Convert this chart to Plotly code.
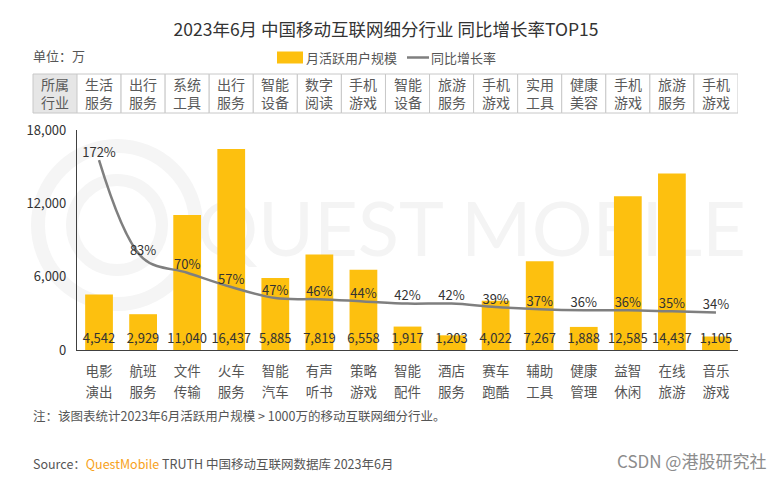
import plotly.graph_objects as go

# ---- data ----
cat_top = ["电影", "航班", "文件", "火车", "智能", "有声", "策略", "智能", "酒店", "赛车", "辅助", "健康", "益智", "在线", "音乐"]
cat_bottom = ["演出", "服务", "传输", "服务", "汽车", "听书", "游戏", "配件", "服务", "跑酷", "工具", "管理", "休闲", "旅游", "游戏"]
industries = ["生活<br>服务", "出行<br>服务", "系统<br>工具", "出行<br>服务", "智能<br>设备", "数字<br>阅读",
              "手机<br>游戏", "智能<br>设备", "旅游<br>服务", "手机<br>游戏", "实用<br>工具", "健康<br>美容",
              "手机<br>游戏", "旅游<br>服务", "手机<br>游戏"]
mau = [4542, 2929, 11040, 16437, 5885, 7819, 6558, 1917, 1203, 4022, 7267, 1888, 12585, 14437, 1105]
growth = [172, 83, 70, 57, 47, 46, 44, 42, 42, 39, 37, 36, 36, 35, 34]
y_ticks = [0, 6000, 12000, 18000]

W, H = 772, 478
L, R, T, B = 77, 738, 130, 350
FONT = "Noto Sans CJK SC, Microsoft YaHei, sans-serif"

categories = [f"{a}<br>{b}" for a, b in zip(cat_top, cat_bottom)]
ticktext = [f"<span style='font-size:13.5px'>{a}</span><br><span style='font-size:13.5px'>{b}</span>"
            for a, b in zip(cat_top, cat_bottom)]

def px(x):
    return (x - L) / (R - L)

def py(y):
    return (B - y) / (B - T)

fig = go.Figure()

fig.add_trace(go.Bar(
    x=categories, y=mau, name="月活跃用户规模",
    marker=dict(color="#FDC00F", line=dict(width=0)),
    width=0.63, showlegend=False, hoverinfo="x+y",
))
# value labels near the base of the bars
fig.add_trace(go.Scatter(
    x=categories, y=[820] * len(mau), mode="text",
    text=[f"{v:,}" for v in mau], textposition="middle center",
    textfont=dict(size=13, color="#333333", family=FONT),
    showlegend=False, hoverinfo="skip",
))
fig.add_trace(go.Scatter(
    x=categories, y=growth, name="同比增长率", yaxis="y2",
    mode="lines+text", line=dict(color="#7F7F7F", width=2.5, shape="spline", smoothing=1),
    text=[f"{g}%" for g in growth], textposition="top center",
    textfont=dict(size=13, color="#333333", family=FONT),
    showlegend=False,
))

shapes = []
annotations = []

def note(x, y, text, size=13, color="#555555", xanchor="left", xref="paper"):
    annotations.append(dict(xref=xref, yref="paper", x=x, y=y, xanchor=xanchor, yanchor="middle",
                            text=text, showarrow=False, font=dict(size=size, color=color, family=FONT)))

# watermark (behind)
shapes.append(dict(type="circle", xref="paper", yref="paper", layer="below",
                   x0=px(38), x1=px(196), y0=py(304), y1=py(146),
                   line=dict(color="#F5F5F5", width=14)))
shapes.append(dict(type="circle", xref="paper", yref="paper", layer="below",
                   x0=px(72), x1=px(162), y0=py(270), y1=py(180),
                   line=dict(color="#F5F5F5", width=12)))
shapes.append(dict(type="rect", xref="paper", yref="paper", layer="below",
                   x0=px(205), x1=px(738), y0=py(262), y1=py(188),
                   line=dict(width=0), fillcolor="rgba(0,0,0,0)",
                   label=dict(text="QUEST MOBILE", font=dict(size=76, color="#F4F4F4", family="Lato, sans-serif"),
                              textposition="middle center")))

# table
ty0, ty1 = py(113), py(74)
tmid = (ty0 + ty1) / 2
shapes.append(dict(type="rect", xref="paper", yref="paper", x0=px(33), x1=px(77), y0=ty0, y1=ty1,
                   fillcolor="#E6E6E6", line=dict(color="#C8C8C8", width=1)))
note(px(55), tmid, "所属<br>行业", size=14, xanchor="center", color="#5A5A5A")
for i, ind in enumerate(industries):
    shapes.append(dict(type="rect", xref="x", yref="paper", x0=i - 0.5, x1=i + 0.5, y0=ty0, y1=ty1,
                       fillcolor="white", line=dict(color="#C8C8C8", width=1)))
    note(i, tmid, ind, size=14, xanchor="center", xref="x", color="#5A5A5A")

# legend (manual)
shapes.append(dict(type="rect", xref="paper", yref="paper", x0=px(277), x1=px(303), y0=py(63.5), y1=py(51.5),
                   fillcolor="#FDC00F", line=dict(width=0)))
note(px(304), py(57.5), "月活跃用户规模")
shapes.append(dict(type="line", xref="paper", yref="paper", x0=px(407), x1=px(429), y0=py(57.5), y1=py(57.5),
                   line=dict(color="#7F7F7F", width=2.5)))
note(px(429), py(57.5), "同比增长率")

# texts
note(px(31), py(56), "单位：万")
note(px(31), py(415), "注：该图表统计2023年6月活跃用户规模 > 1000万的移动互联网细分行业。", size=12.5)
note(px(31), py(463), "Source：<span style='color:#F7A21B'>QuestMobile</span> TRUTH 中国移动互联网数据库 2023年6月",
     size=12.5)
note(px(768), py(461), "CSDN @港股研究社", size=17, color="#8C8C8C", xanchor="right")

fig.update_layout(
    width=W, height=H,
    margin=dict(l=L, r=W - R, t=T, b=H - B, pad=0, autoexpand=False),
    paper_bgcolor="white", plot_bgcolor="rgba(0,0,0,0)",
    title=dict(text="2023年6月 中国移动互联网细分行业 同比增长率TOP15", x=0.5, xanchor="center",
               xref="container", y=1 - 30 / H, yanchor="middle",
               font=dict(size=17.5, color="#333333", family=FONT)),
    xaxis=dict(showline=True, linecolor="#404040", linewidth=1.2, showgrid=False, ticks="",
               tickmode="array", tickvals=categories, ticktext=ticktext,
               tickfont=dict(size=16, color="#555555", family=FONT), ticklabelstandoff=6,
               range=[-0.5, len(categories) - 0.5], fixedrange=True, automargin=False),
    yaxis=dict(range=[0, 18000], tickvals=y_ticks, tickformat=",", showgrid=False, zeroline=False,
               showline=True, linecolor="#404040", linewidth=1.2, ticks="", automargin=False,
               tickfont=dict(size=13, color="#333333", family=FONT), ticklabelstandoff=7),
    yaxis2=dict(range=[0, 199.2], overlaying="y", side="right", visible=False, showgrid=False),
    shapes=shapes, annotations=annotations,
    showlegend=False,
)

fig.write_html("out.html", config={"displayModeBar": False},
               post_script="document.body.style.margin='0';document.body.style.padding='0';")
